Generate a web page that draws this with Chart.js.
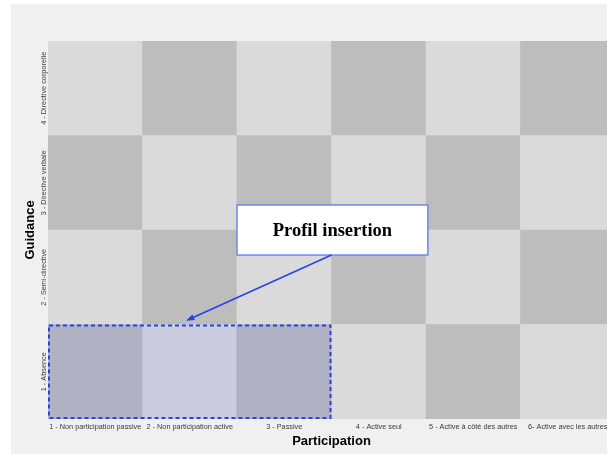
<!DOCTYPE html>
<html lang="fr">
<head>
<meta charset="utf-8">
<script src="https://cdn.jsdelivr.net/npm/chart.js@4.4.1/dist/chart.umd.min.js"></script>
<style>
  html, body {
    margin: 0;
    padding: 0;
    background: #ffffff;
    overflow: hidden;
    width: 607px;
    height: 454px;
  }
  #panel {
    position: absolute;
    left: 11px;
    top: 4px;
    width: 604px;
    height: 450px;
    background: #f0f0f0;
  }
</style>
</head>
<body>
<div id="panel"><canvas id="grid"></canvas></div>
<script>
const participation = [
  '1 - Non participation passive',
  '2 - Non participation active',
  '3 - Passive',
  '4 - Active seul',
  '5 - Active à côté des autres',
  '6- Active avec les autres'
];

// bottom row first
const guidance = [
  '1 - Absence',
  '2 - Semi-directive',
  '3 - Directive verbale',
  '4 - Directive corporelle'
];

// 1 = dark cell, 0 = light cell, one array per guidance level (bottom first)
const shadeAbsence = [1, 0, 1, 0, 1, 0];
const shadeSemi = [0, 1, 0, 1, 0, 1];
const shadeVerbale = [1, 0, 1, 0, 1, 0];
const shadeCorporelle = [0, 1, 0, 1, 0, 1];
const shadeRows = [shadeAbsence, shadeSemi, shadeVerbale, shadeCorporelle];

const profileLabel = 'Profil insertion';
const profileRow = 0;
const profileCols = [0, 1, 2];

const cellColors = ['#dadada', '#bdbdbd'];
const profileFill = 'rgba(40, 60, 255, 0.09)';
const blue = '#2444e6';
const labelFamily = '"Liberation Sans", Arial, sans-serif';

function rowDataset(rowIndex) {
  return {
    label: guidance[rowIndex],
    data: participation.map(() => [rowIndex, rowIndex + 1]),
    backgroundColor: shadeRows[rowIndex].map((shade) => cellColors[shade]),
    borderWidth: 0,
    grouped: false,
    barPercentage: 1,
    categoryPercentage: 1,
    order: 1
  };
}

const profileDataset = {
  label: profileLabel,
  data: participation.map((_, i) => (profileCols.includes(i) ? [profileRow, profileRow + 1] : null)),
  backgroundColor: profileFill,
  borderWidth: 0,
  grouped: false,
  barPercentage: 1,
  categoryPercentage: 1,
  order: 0
};

// rotated guidance labels, centred on each row
const rowLabelsPlugin = {
  id: 'rowLabels',
  afterDraw(chart) {
    const { ctx, chartArea } = chart;
    const y = chart.scales.y;
    ctx.save();
    ctx.fillStyle = '#3a3a3a';
    ctx.font = `7.3px ${labelFamily}`;
    ctx.textAlign = 'center';
    ctx.textBaseline = 'middle';
    guidance.forEach((label, i) => {
      ctx.save();
      ctx.translate(chartArea.left - 4, y.getPixelForValue(i + 0.5));
      ctx.rotate(-Math.PI / 2);
      ctx.fillText(label, 0, 0);
      ctx.restore();
    });
    ctx.restore();
  }
};

const calloutPlugin = {
  id: 'callout',
  afterDatasetsDraw(chart, args, opts) {
    const { ctx } = chart;
    const x = chart.scales.x;
    const y = chart.scales.y;

    // dashed frame round the profile cells
    const left = x.getPixelForValue(profileCols[0] - 0.5);
    const right = x.getPixelForValue(profileCols[profileCols.length - 1] + 0.5);
    const top = y.getPixelForValue(profileRow + 1);
    const bottom = y.getPixelForValue(profileRow);
    ctx.save();
    ctx.strokeStyle = blue;
    ctx.lineWidth = 2;
    ctx.setLineDash([4, 3]);
    ctx.strokeRect(left + 1, top + 1, right - left - 2, bottom - top - 2);
    ctx.restore();

    // label box
    const bx0 = x.getPixelForValue(opts.box.x[0]);
    const bx1 = x.getPixelForValue(opts.box.x[1]);
    const by0 = y.getPixelForValue(opts.box.y[1]);
    const by1 = y.getPixelForValue(opts.box.y[0]);
    ctx.save();
    ctx.fillStyle = '#ffffff';
    ctx.fillRect(bx0, by0, bx1 - bx0, by1 - by0);
    ctx.strokeStyle = '#6f86e6';
    ctx.lineWidth = 1.5;
    ctx.strokeRect(bx0, by0, bx1 - bx0, by1 - by0);
    ctx.fillStyle = '#000000';
    ctx.font = 'bold 18.5px "Liberation Serif", "Times New Roman", serif';
    ctx.textAlign = 'center';
    ctx.textBaseline = 'middle';
    ctx.fillText(profileLabel, (bx0 + bx1) / 2, (by0 + by1) / 2 + 1);
    ctx.restore();

    // arrow from box to the frame
    const ax0 = x.getPixelForValue(opts.arrow.from[0]);
    const ay0 = y.getPixelForValue(opts.arrow.from[1]);
    const ax1 = x.getPixelForValue(opts.arrow.to[0]);
    const ay1 = y.getPixelForValue(opts.arrow.to[1]);
    const angle = Math.atan2(ay1 - ay0, ax1 - ax0);
    const head = 9;
    ctx.save();
    ctx.strokeStyle = blue;
    ctx.fillStyle = blue;
    ctx.lineWidth = 1.6;
    ctx.beginPath();
    ctx.moveTo(ax0, ay0);
    ctx.lineTo(ax1 - Math.cos(angle) * head * 0.8, ay1 - Math.sin(angle) * head * 0.8);
    ctx.stroke();
    ctx.beginPath();
    ctx.moveTo(ax1, ay1);
    ctx.lineTo(ax1 - head * Math.cos(angle - 0.35), ay1 - head * Math.sin(angle - 0.35));
    ctx.lineTo(ax1 - head * Math.cos(angle + 0.35), ay1 - head * Math.sin(angle + 0.35));
    ctx.closePath();
    ctx.fill();
    ctx.restore();
  }
};

const tickFont = { family: labelFamily, size: 7.3 };
const titleFont = { family: labelFamily, size: 13, weight: 'bold' };

new Chart(document.querySelector('#grid'), {
  type: 'bar',
  data: {
    labels: participation,
    datasets: [profileDataset, ...guidance.map((_, i) => rowDataset(i))]
  },
  options: {
    responsive: true,
    maintainAspectRatio: false,
    animation: false,
    events: [],
    layout: { padding: { top: 37, right: 0, bottom: 0, left: 0 } },
    plugins: {
      legend: { display: false },
      tooltip: { enabled: false },
      callout: {
        box: { x: [1.5, 3.52], y: [1.735, 2.265] },
        arrow: { from: [2.5, 1.735], to: [0.96, 1.04] }
      }
    },
    scales: {
      x: {
        type: 'category',
        offset: true,
        grid: { display: false, drawTicks: false },
        border: { display: false },
        ticks: {
          autoSkip: false,
          maxRotation: 0,
          minRotation: 0,
          padding: 4,
          color: '#3a3a3a',
          font: tickFont
        },
        title: {
          display: true,
          text: 'Participation',
          color: '#000000',
          font: titleFont,
          padding: { top: 0, bottom: 5 }
        },
        afterFit(scale) {
          scale.height = 35;
        }
      },
      y: {
        type: 'linear',
        min: 0,
        max: 4,
        grid: { display: false, drawTicks: false },
        border: { display: false },
        ticks: { display: false },
        title: {
          display: true,
          text: 'Guidance',
          color: '#000000',
          font: titleFont,
          padding: { top: 12, bottom: 0 }
        },
        afterFit(scale) {
          scale.width = 37;
        }
      }
    }
  },
  plugins: [calloutPlugin, rowLabelsPlugin]
});
</script>
</body>
</html>
